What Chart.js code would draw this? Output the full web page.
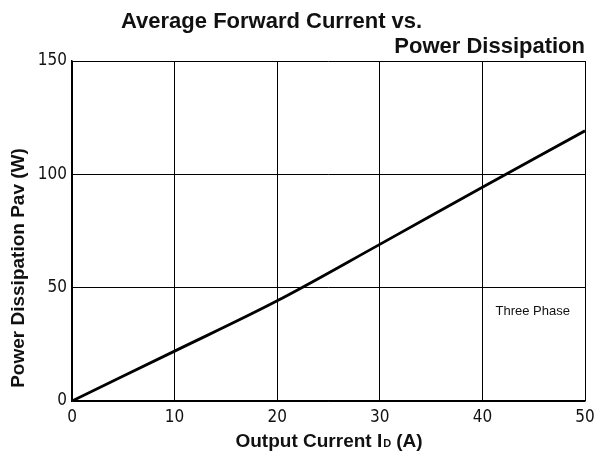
<!DOCTYPE html>
<html>
<head>
<meta charset="utf-8">
<script src="https://cdn.jsdelivr.net/npm/chart.js@4/dist/chart.umd.min.js"></script>
<style>
  html, body { margin: 0; padding: 0; background: #fff; }
  #wrap { width: 608px; height: 458px; }
</style>
</head>
<body>
<div id="wrap"><canvas id="pavChart"></canvas></div>
<script>
// values
const currentA = [0, 10, 20, 30, 40, 50];
const powerW = [0, 22, 44.2, 69.1, 94.3, 119.2];
const xTicks = [0, 10, 20, 30, 40, 50];
const yTicks = [0, 50, 100, 150];

const tickFont = { family: "'DejaVu Sans Condensed', 'DejaVu Sans'", size: 17 };

// titles, axis titles and the "Three Phase" note
const textPlugin = {
  id: 'texts',
  afterDraw(chart) {
    const ctx = chart.ctx;
    const area = chart.chartArea;
    const x = chart.scales.x, y = chart.scales.y;
    ctx.save();
    ctx.fillStyle = '#111';
    ctx.textBaseline = 'alphabetic';

    // two-line title
    ctx.font = "bold 22px 'Liberation Sans', Arial, sans-serif";
    ctx.textAlign = 'left';
    ctx.fillText('Average Forward Current vs.', 121, 28);
    ctx.textAlign = 'right';
    ctx.fillText('Power Dissipation', area.right, 53);

    // x axis title with subscript D
    const big = "bold 19px 'Liberation Sans', Arial, sans-serif";
    const small = "bold 11px 'Liberation Sans', Arial, sans-serif";
    const p1 = 'Output Current I', p2 = 'D', p3 = '(A)';
    ctx.font = big;
    const w1 = ctx.measureText(p1).width, w3 = ctx.measureText(p3).width;
    ctx.font = small;
    const w2 = ctx.measureText(p2).width + 6;
    let sx = 329 - (w1 + w2 + w3) / 2;
    ctx.textAlign = 'left';
    ctx.font = big; ctx.fillText(p1, sx, 447);
    ctx.font = small; ctx.fillText(p2, sx + w1 + 1, 447);
    ctx.font = big; ctx.fillText(p3, sx + w1 + w2, 447);

    // y axis title
    ctx.save();
    ctx.translate(24, 268);
    ctx.rotate(-Math.PI / 2);
    ctx.textAlign = 'center';
    ctx.font = big;
    ctx.fillText('Power Dissipation Pav (W)', 0, 0);
    ctx.restore();

    // note
    ctx.font = "13px 'Liberation Sans', Arial, sans-serif";
    ctx.textAlign = 'center';
    ctx.fillText('Three Phase', x.getPixelForValue(44.9), y.getPixelForValue(50) + 27);
    ctx.restore();
  }
};

new Chart(document.getElementById('pavChart'), {
  type: 'scatter',
  data: {
    datasets: [{
      data: currentA.map((c, i) => ({ x: c, y: powerW[i] })),
      showLine: true,
      borderColor: '#000',
      borderWidth: 2.8,
      pointRadius: 0,
      tension: 0.35
    }]
  },
  options: {
    responsive: true,
    maintainAspectRatio: false,
    animation: false,
    layout: { padding: { left: 0, right: 23, top: 61, bottom: 0 } },
    plugins: { legend: { display: false }, tooltip: { enabled: false } },
    scales: {
      x: {
        type: 'linear', min: 0, max: 50,
        afterFit: s => { s.height = 57; },
        afterBuildTicks: s => { s.ticks = xTicks.map(v => ({ value: v })); },
        grid: { color: '#000', lineWidth: 1, drawTicks: false },
        border: { color: '#000', width: 1.5 },
        ticks: { color: '#111', font: tickFont, padding: 6 }
      },
      y: {
        type: 'linear', min: 0, max: 150,
        afterFit: s => { s.width = 72; },
        afterBuildTicks: s => { s.ticks = yTicks.map(v => ({ value: v })); },
        grid: { color: '#000', lineWidth: 1, drawTicks: false },
        border: { color: '#000', width: 1.5 },
        ticks: { color: '#111', font: tickFont, padding: 5 }
      }
    }
  },
  plugins: [textPlugin]
});
</script>
</body>
</html>
